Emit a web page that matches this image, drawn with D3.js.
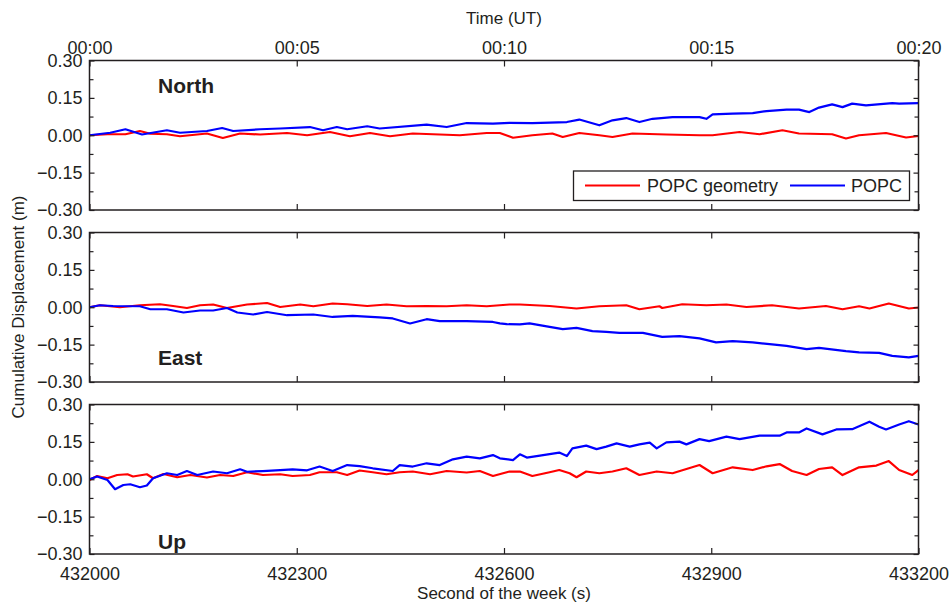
<!DOCTYPE html>
<html lang="en">
<head>
  <meta charset="UTF-8">
  <title>Cumulative Displacement</title>
  <script src="https://d3js.org/d3.v7.min.js"></script>
  <style>
    body { margin: 0; background: #fff; }
    svg text { font-family: "Liberation Sans", Arial, sans-serif; fill: #231f20; }
  </style>
</head>
<body>
  <div id="chart"></div>
  <script>
    // [seconds after 432000, displacement in m]
    const northGeom = [[0,0.000],[26,0.004],[52,0.004],[73,0.017],[88,0.006],[112,0.004],[131,-0.004],[170,0.007],[193,-0.011],[218,0.007],[247,0.003],[286,0.009],[315,0.000],[348,0.013],[377,-0.004],[406,0.009],[435,-0.004],[468,0.007],[507,0.003],[536,0.000],[575,0.009],[594,0.009],[613,-0.010],[641,0.000],[670,0.007],[685,-0.007],[709,0.009],[738,0.000],[757,-0.007],[786,0.007],[835,0.003],[883,0.000],[902,0.000],[941,0.013],[970,0.004],[1003,0.020],[1027,0.007],[1075,0.004],[1095,-0.013],[1114,0.000],[1153,0.009],[1182,-0.009],[1200,-0.003]];
    const northPOPC = [[0,0.000],[30,0.010],[52,0.024],[76,0.003],[112,0.020],[131,0.010],[170,0.017],[192,0.029],[208,0.017],[247,0.024],[276,0.027],[319,0.033],[338,0.020],[358,0.033],[373,0.024],[402,0.036],[420,0.027],[488,0.043],[517,0.033],[546,0.049],[584,0.047],[608,0.050],[641,0.049],[691,0.053],[709,0.063],[738,0.040],[757,0.060],[777,0.069],[796,0.053],[815,0.066],[844,0.073],[883,0.073],[893,0.066],[902,0.084],[931,0.087],[960,0.089],[980,0.097],[1009,0.103],[1027,0.103],[1042,0.093],[1056,0.111],[1075,0.124],[1090,0.113],[1104,0.127],[1124,0.120],[1162,0.129],[1172,0.127],[1200,0.129]];
    const eastGeom = [[0,0.000],[15,0.008],[44,0.000],[73,0.008],[102,0.012],[121,0.005],[141,-0.003],[160,0.008],[179,0.011],[199,-0.003],[228,0.011],[257,0.017],[276,0.001],[305,0.011],[324,0.004],[352,0.015],[373,0.012],[402,0.005],[430,0.011],[459,0.004],[488,0.005],[517,0.004],[546,0.008],[575,0.004],[608,0.011],[623,0.011],[666,0.005],[705,-0.005],[738,0.004],[777,0.008],[796,-0.008],[825,0.004],[829,-0.003],[858,0.012],[893,0.008],[922,0.011],[951,0.001],[988,0.008],[1027,-0.005],[1066,0.005],[1090,-0.008],[1114,0.004],[1129,-0.005],[1157,0.015],[1186,-0.005],[1200,-0.001]];
    const eastPOPC = [[0,0.000],[15,0.008],[34,0.005],[73,0.004],[88,-0.008],[112,-0.008],[136,-0.021],[160,-0.013],[179,-0.013],[199,-0.003],[214,-0.021],[237,-0.029],[257,-0.019],[286,-0.032],[324,-0.029],[352,-0.039],[381,-0.035],[420,-0.041],[439,-0.045],[464,-0.065],[488,-0.048],[507,-0.056],[546,-0.056],[584,-0.059],[594,-0.065],[604,-0.068],[623,-0.069],[637,-0.065],[666,-0.079],[685,-0.088],[705,-0.083],[728,-0.096],[748,-0.099],[767,-0.103],[801,-0.103],[829,-0.119],[854,-0.116],[883,-0.125],[907,-0.141],[931,-0.136],[960,-0.141],[988,-0.149],[1009,-0.155],[1038,-0.168],[1056,-0.163],[1095,-0.176],[1114,-0.181],[1143,-0.183],[1162,-0.195],[1186,-0.201],[1200,-0.195]];
    const upGeom = [[0,-0.003],[11,0.013],[26,0.004],[40,0.017],[55,0.020],[63,0.011],[83,0.020],[92,0.004],[107,0.021],[127,0.008],[146,0.017],[170,0.007],[189,0.017],[208,0.013],[228,0.028],[251,0.017],[276,0.020],[294,0.013],[319,0.017],[333,0.028],[358,0.028],[373,0.017],[391,0.035],[410,0.028],[430,0.020],[449,0.028],[468,0.031],[493,0.020],[517,0.033],[546,0.027],[565,0.033],[584,0.013],[608,0.031],[623,0.031],[641,0.013],[666,0.028],[680,0.037],[695,0.024],[705,0.008],[719,0.031],[738,0.024],[757,0.031],[777,0.044],[796,0.017],[821,0.031],[844,0.024],[883,0.057],[902,0.024],[931,0.048],[960,0.037],[980,0.052],[999,0.061],[1017,0.033],[1038,0.017],[1056,0.041],[1075,0.048],[1090,0.017],[1114,0.048],[1139,0.055],[1157,0.073],[1172,0.037],[1191,0.017],[1200,0.037]];
    const upPOPC = [[0,0.000],[11,0.011],[26,-0.003],[37,-0.040],[49,-0.023],[59,-0.020],[73,-0.032],[83,-0.025],[92,0.004],[112,0.024],[127,0.017],[141,0.033],[156,0.017],[179,0.031],[199,0.024],[218,0.040],[228,0.030],[251,0.033],[276,0.037],[294,0.040],[315,0.036],[333,0.051],[352,0.033],[373,0.057],[391,0.053],[410,0.044],[439,0.033],[449,0.057],[468,0.051],[488,0.064],[507,0.057],[526,0.080],[546,0.091],[565,0.084],[584,0.097],[594,0.084],[613,0.077],[623,0.100],[633,0.087],[652,0.095],[680,0.107],[691,0.093],[699,0.124],[719,0.135],[734,0.121],[748,0.131],[763,0.144],[782,0.131],[796,0.140],[811,0.147],[821,0.124],[835,0.148],[854,0.151],[864,0.140],[883,0.161],[897,0.153],[922,0.171],[941,0.161],[970,0.175],[999,0.175],[1009,0.188],[1027,0.188],[1038,0.204],[1061,0.180],[1081,0.200],[1104,0.201],[1129,0.231],[1143,0.211],[1153,0.200],[1172,0.220],[1186,0.233],[1200,0.220]];

    const weekStart = 432000;
    const xTicks = [432000, 432300, 432600, 432900, 433200];
    const yMajor = [-0.30, -0.15, 0.00, 0.15, 0.30];
    const yMinor = [-0.225, -0.075, 0.075, 0.225];
    const seriesNames = ["POPC geometry", "POPC"];
    const seriesColors = ["#ff0000", "#0000ff"];

    const panels = [
      { name: "North", geom: northGeom, popc: northPOPC, top: 60.5, labelY: 93 },
      { name: "East", geom: eastGeom, popc: eastPOPC, top: 232.5, labelY: 365 },
      { name: "Up", geom: upGeom, popc: upPOPC, top: 404.5, labelY: 549 }
    ];

    const W = 951, H = 605;
    const left = 89.5, right = 918.5, ph = 149.5;

    const svg = d3.select("#chart").append("svg")
      .attr("width", W)
      .attr("height", H);

    const x = d3.scaleLinear().domain([432000, 433200]).range([left, right]);

    const fmtY = d3.format(".2f");
    const fmtTime = d => "00:" + String((d - weekStart) / 60).padStart(2, "0");

    panels.forEach((p, i) => {
      const y = d3.scaleLinear().domain([-0.3, 0.3]).range([p.top + ph, p.top]);
      const g = svg.append("g");

      // data lines
      const line = d3.line()
        .x(d => x(weekStart + d[0]))
        .y(d => y(d[1]));
      [p.geom, p.popc].forEach((s, k) => {
        g.append("path")
          .datum(s)
          .attr("fill", "none")
          .attr("stroke", seriesColors[k])
          .attr("stroke-width", 2.2)
          .attr("stroke-linejoin", "round")
          .attr("d", line);
      });

      // bottom ticks (labels only on last panel)
      const xb = g.append("g")
        .attr("transform", `translate(0,${p.top + ph})`)
        .call(d3.axisBottom(x).tickValues(xTicks).tickSize(-6).tickPadding(13)
          .tickFormat(i === 2 ? d3.format("d") : ""));
      // top ticks (labels only on first panel)
      const xt = g.append("g")
        .attr("transform", `translate(0,${p.top})`)
        .call(d3.axisTop(x).tickValues(xTicks).tickSize(-6).tickPadding(7)
          .tickFormat(i === 0 ? fmtTime : ""));

      const yl = g.append("g")
        .attr("transform", `translate(${left},0)`)
        .call(d3.axisLeft(y).tickValues(yMajor).tickSize(-5).tickPadding(7).tickFormat(fmtY));
      const ylm = g.append("g")
        .attr("transform", `translate(${left},0)`)
        .call(d3.axisLeft(y).tickValues(yMinor).tickSize(-4).tickFormat(""));
      const yr = g.append("g")
        .attr("transform", `translate(${right},0)`)
        .call(d3.axisRight(y).tickValues(yMajor).tickSize(-5).tickFormat(""));
      const yrm = g.append("g")
        .attr("transform", `translate(${right},0)`)
        .call(d3.axisRight(y).tickValues(yMinor).tickSize(-4).tickFormat(""));

      [xb, xt, yl, ylm, yr, yrm].forEach(a => {
        a.select(".domain").remove();
        a.selectAll("line").attr("stroke", "#231f20").attr("stroke-width", 1.2);
        a.selectAll("text").style("font-size", "18px").style("font-family", "Liberation Sans, Arial, sans-serif").attr("fill", "#231f20");
      });

      // frame
      g.append("rect")
        .attr("x", left)
        .attr("y", p.top)
        .attr("width", right - left)
        .attr("height", ph)
        .attr("fill", "none")
        .attr("stroke", "#231f20")
        .attr("stroke-width", 1.5);

      g.append("text")
        .attr("x", 158)
        .attr("y", p.labelY)
        .style("font-size", "21px")
        .style("font-weight", "bold")
        .text(p.name);
    });

    // legend in the North panel
    const lg = svg.append("g");
    lg.append("rect")
      .attr("x", 573.5).attr("y", 171)
      .attr("width", 336).attr("height", 29.5)
      .attr("fill", "#fff")
      .attr("stroke", "#231f20")
      .attr("stroke-width", 1.3);
    const legendX = [[585, 640, 647], [790, 845, 851]];
    seriesNames.forEach((n, k) => {
      lg.append("line")
        .attr("x1", legendX[k][0]).attr("x2", legendX[k][1])
        .attr("y1", 185.5).attr("y2", 185.5)
        .attr("stroke", seriesColors[k])
        .attr("stroke-width", 2);
      lg.append("text")
        .attr("x", legendX[k][2])
        .attr("y", 185.5)
        .attr("dy", "0.35em")
        .style("font-size", "18px")
        .text(n);
    });

    // axis titles
    svg.append("text")
      .attr("x", 504).attr("y", 24)
      .attr("text-anchor", "middle")
      .style("font-size", "17px")
      .text("Time (UT)");

    svg.append("text")
      .attr("x", 504).attr("y", 599)
      .attr("text-anchor", "middle")
      .style("font-size", "17px")
      .text("Second of the week (s)");

    svg.append("text")
      .attr("transform", "rotate(-90)")
      .attr("x", -307).attr("y", 24)
      .attr("text-anchor", "middle")
      .style("font-size", "17px")
      .text("Cumulative Displacement (m)");
  </script>
</body>
</html>
